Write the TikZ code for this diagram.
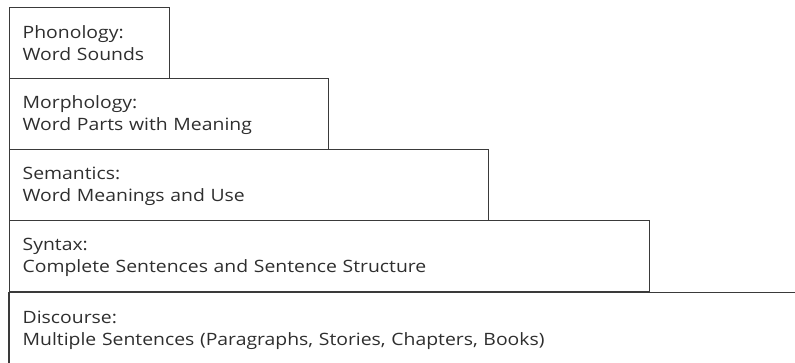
\documentclass[tikz,border=0pt]{standalone}
\usepackage{fontspec}
\setmainfont{Open Sans}[FakeStretch=1.14]
\usetikzlibrary{positioning}
\definecolor{linegray}{HTML}{3A3A3A}
\definecolor{textgray}{HTML}{2E2E2E}

\begin{document}
\begin{tikzpicture}[x=1pt, y=1pt, font=\fontsize{17}{22}\selectfont,
    box/.style={draw=linegray, line width=1.3pt, text=textgray, align=left,
      minimum height=71pt, inner xsep=13pt, inner ysep=0pt, anchor=north west}]
    \useasboundingbox (0,0) rectangle (795,-362);
    \foreach \i/\w/\txt in {1/160/{Phonology:\\Word Sounds},
                            2/319/{Morphology:\\Word Parts with Meaning},
                            3/479/{Semantics:\\Word Meanings and Use},
                            4/640/{Syntax:\\Complete Sentences and Sentence Structure}} {
      \node[box, text width=\w pt-26pt] (lvl\i) at (9,{-7-71*(\i-1)}) {\strut\txt\rule[-3pt]{0pt}{0pt}};
    }
    \node[box, draw=none, text width=760pt] (lvl5) at (lvl4.south west)
      {\strut Discourse:\\Multiple Sentences (Paragraphs, Stories, Chapters, Books)\rule[-3pt]{0pt}{0pt}};
    \draw[linegray, line width=1.3pt] (lvl5.south west) -- (lvl5.north west) -- (lvl5.north east);
  \end{tikzpicture}
\end{document}
